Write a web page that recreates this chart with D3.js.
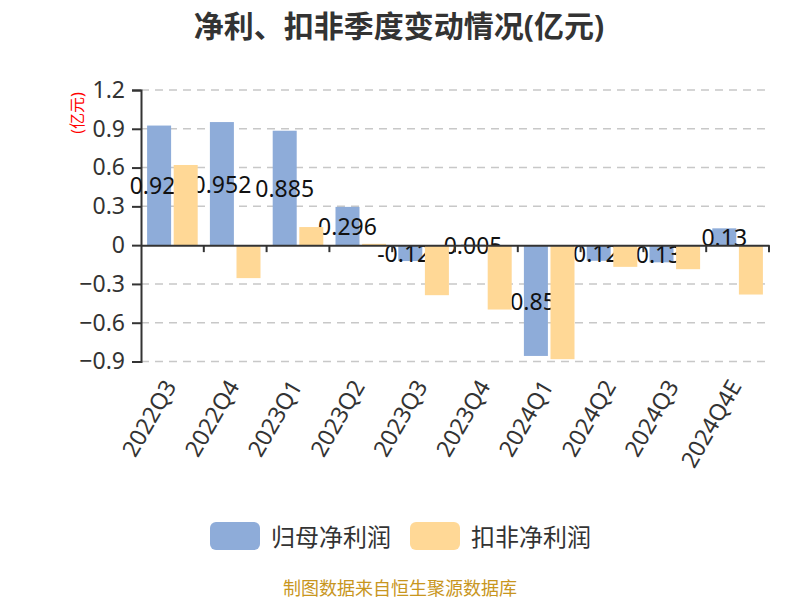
<!DOCTYPE html>
<html>
<head>
<meta charset="utf-8">
<script src="https://cdn.jsdelivr.net/npm/d3@7"></script>
<style>
  html, body { margin: 0; padding: 0; background: #fff; }
  svg { display: block; }
</style>
</head>
<body>
<svg id="chart" width="800" height="600"></svg>
<script>
const categories = ["2022Q3","2022Q4","2023Q1","2023Q2","2023Q3","2023Q4","2024Q1","2024Q2","2024Q3","2024Q4E"];
const netProfit = [0.925, 0.952, 0.885, 0.296, -0.123, 0.005, -0.857, -0.121, -0.133, 0.13];
const deductedProfit = [0.62, -0.255, 0.14, 0.01, -0.387, -0.498, -0.882, -0.168, -0.186, -0.382];
const seriesNames = ["归母净利润", "扣非净利润"];
const yTicks = [-0.9, -0.6, -0.3, 0, 0.3, 0.6, 0.9, 1.2];
const titleText = "净利、扣非季度变动情况(亿元)";
const unitText = "(亿元)";
const footerText = "制图数据来自恒生聚源数据库";

const colors = ["#8eacd9", "#ffd896"];
const font = "'Noto Sans', 'Noto Sans CJK SC', sans-serif";

const svg = d3.select("#chart");
const pLeft = 141, pRight = 769, pTop = 90, pBottom = 361.5;

const x = d3.scaleBand().domain(categories).range([pLeft, pRight]).padding(0);
const y = d3.scaleLinear().domain([-0.9, 1.2]).range([pBottom, pTop]);

// title
svg.append("text").attr("x", 399).attr("y", 25).attr("text-anchor", "middle")
  .attr("dominant-baseline", "central")
  .style("font-family", font).style("font-size", "30px").style("font-weight", "bold")
  .style("fill", "#333").text(titleText);

// gridlines
svg.append("g").selectAll("line").data(yTicks.filter(d => d !== 0)).join("line")
  .attr("x1", pLeft).attr("x2", pRight)
  .attr("y1", d => y(d)).attr("y2", d => y(d))
  .attr("stroke", "#c8c8c8").attr("stroke-width", 1.5).attr("stroke-dasharray", "8,6");

// y axis
const yAxis = d3.axisLeft(y).tickValues(yTicks).tickSize(9).tickPadding(7)
  .tickFormat(d => d === 0 ? "0" : d3.format(".1f")(d));
const gy = svg.append("g").attr("transform", `translate(${pLeft},0)`).call(yAxis);
gy.select(".domain").attr("stroke", "#333").attr("stroke-width", 2);
gy.selectAll(".tick line").attr("stroke", "#333").attr("stroke-width", 2);
gy.selectAll(".tick text").style("font-family", font).style("font-size", "23px").style("fill", "#333");

// unit label
svg.append("text").attr("transform", "translate(77,113) rotate(-90)")
  .attr("text-anchor", "middle").attr("dominant-baseline", "central")
  .style("font-family", font).style("font-size", "16px").style("fill", "#ff0000")
  .text(unitText);

const barW = 24, gap = 2.6;
const bx = (i, s) => x(categories[i]) + x.bandwidth() / 2 + (s === 0 ? -gap / 2 - barW : gap / 2);

// blue bars
const g0 = svg.append("g");
g0.selectAll("rect").data(netProfit).join("rect")
  .attr("x", (d, i) => bx(i, 0)).attr("width", barW)
  .attr("y", d => y(Math.max(0, d))).attr("height", d => Math.abs(y(d) - y(0)))
  .attr("fill", colors[0]);
// blue labels
g0.selectAll("text").data(netProfit).join("text")
  .attr("x", (d, i) => bx(i, 0) + barW / 2)
  .attr("y", d => (y(d) + y(0)) / 2)
  .attr("text-anchor", "middle").attr("dominant-baseline", "central")
  .style("font-family", font).style("font-size", "23px").style("fill", "#111")
  .text(d => String(d));

// orange bars
svg.append("g").selectAll("rect").data(deductedProfit).join("rect")
  .attr("x", (d, i) => bx(i, 1)).attr("width", barW)
  .attr("y", d => y(Math.max(0, d))).attr("height", d => Math.abs(y(d) - y(0)))
  .attr("fill", colors[1]);

// x axis at zero
const xAxis = d3.axisBottom(x).tickSize(0).tickFormat("");
const gx = svg.append("g").attr("transform", `translate(0,${y(0)})`).call(xAxis);
gx.select(".domain").attr("stroke", "#333").attr("stroke-width", 2);
// boundary ticks
const bounds = categories.map(c => x(c) + x.bandwidth());
svg.append("g").selectAll("line").data(bounds).join("line")
  .attr("x1", d => d).attr("x2", d => d).attr("y1", y(0)).attr("y2", y(0) + 7)
  .attr("stroke", "#333").attr("stroke-width", 2);

// x labels
svg.append("g").selectAll("text").data(categories).join("text")
  .attr("transform", d => `translate(${x(d) + x.bandwidth() / 2 - 3},${pBottom + 20}) rotate(-60)`)
  .attr("text-anchor", "end").attr("dominant-baseline", "central")
  .style("font-family", font).style("font-size", "23px").style("fill", "#333")
  .text(d => d);

// legend
const legend = svg.append("g");
const legendX = [210, 410];
seriesNames.forEach((name, i) => {
  legend.append("rect").attr("x", legendX[i]).attr("y", 522).attr("width", 50).attr("height", 28)
    .attr("rx", 6).attr("fill", colors[i]);
  legend.append("text").attr("x", legendX[i] + 61).attr("y", 536)
    .attr("dominant-baseline", "central")
    .style("font-family", font).style("font-size", "24px").style("fill", "#333").text(name);
});

// footer
svg.append("text").attr("x", 400).attr("y", 588).attr("text-anchor", "middle")
  .attr("dominant-baseline", "central")
  .style("font-family", font).style("font-size", "18px").style("fill", "#c8961e").text(footerText);
</script>
</body>
</html>
